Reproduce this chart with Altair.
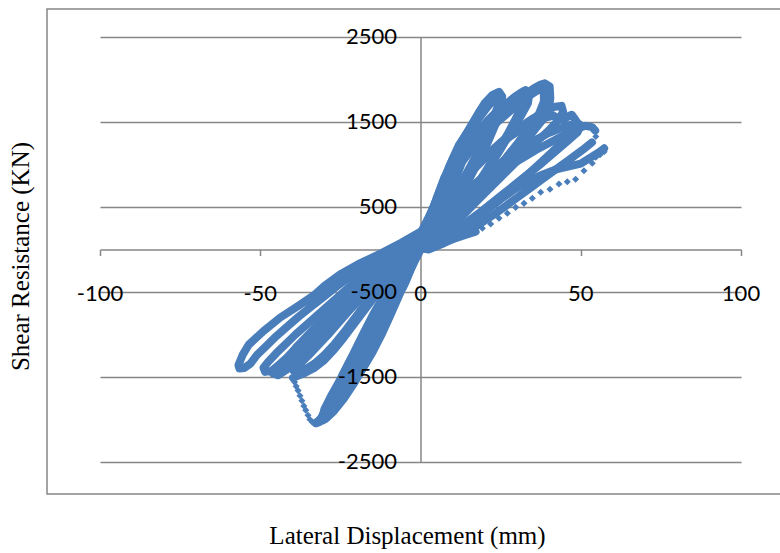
import altair as alt
import pandas as pd

# ---------------- axis ticks ----------------
x_ticks = [-100, -50, 0, 50, 100]
y_ticks = [-2500, -1500, -500, 500, 1500, 2500]

# ---------------- hysteresis data (displacement mm, shear kN) ----------------
loop_01 = [(0, 20), (1.5, 170), (3, 320), (4.5, 460), (5.5, 530), (5, 420), (3.5, 270), (2, 120), (0, 10),
           (-1.5, -100), (-3, -230), (-4.5, -370), (-5.5, -450), (-4.8, -350), (-3, -200), (-1.5, -70), (0, 20)]
loop_02 = [(0, 50), (2.5, 320), (5, 600), (7.5, 850), (10, 1010), (9.5, 880), (7, 600), (4, 290), (1.5, 70), (0, 10),
           (-2.5, -130), (-5, -320), (-7.5, -530), (-10, -730), (-9.2, -610), (-6.5, -390), (-3.5, -170), (-1, -30), (0, 40)]
loop_03 = [(0, 90), (3, 370), (6, 690), (9, 980), (12, 1230), (15, 1400), (16.5, 1430), (15.5, 1280), (12.5, 980),
           (9, 630), (5, 300), (2, 80), (0, 20), (-3, -150), (-6, -380), (-9, -630), (-12, -870), (-15, -1070),
           (-16.5, -1130), (-15, -990), (-11.5, -710), (-8, -440), (-4, -180), (-1, -20), (0, 60)]
loop_04 = [(0, 150), (2.5, 370), (5, 590), (7.5, 840), (10, 1060), (13, 1280), (15.5, 1440), (18, 1600), (20, 1720),
           (22.5, 1820), (24.5, 1855), (25.5, 1800), (25, 1660), (23.5, 1480), (21, 1260), (18, 1030), (14, 740),
           (10, 480), (6, 260), (2.5, 90), (0, 30), (-3, -190), (-6, -430), (-9, -690), (-12, -940), (-15, -1160),
           (-18, -1340), (-20.5, -1430), (-20, -1310), (-17.5, -1110), (-14, -860), (-10, -570), (-6, -310),
           (-2.5, -100), (0, 70)]
loop_04r = [(0, 120), (3, 390), (6, 660), (9, 920), (12, 1150), (15, 1350), (18, 1530), (21, 1680), (23.5, 1790),
            (24.8, 1820), (24.3, 1700), (22.5, 1520), (20, 1310), (17, 1080), (13, 800), (9, 530), (5, 290), (2, 110),
            (0, 40), (-3, -220), (-6, -480), (-9, -740), (-12, -990), (-15, -1210), (-18, -1400), (-21, -1560),
            (-23, -1640), (-22.5, -1530), (-20, -1330), (-16.5, -1080), (-13, -820), (-9, -540), (-5, -280),
            (-2, -90), (0, 60)]
loop_05 = [(0, 170), (3, 390), (6, 630), (9, 870), (12, 1070), (15, 1250), (18, 1390), (21, 1520), (24, 1630),
           (27, 1720), (29.5, 1800), (31.5, 1850), (32.8, 1875), (34, 1840), (33.5, 1720), (31.5, 1580), (28.5, 1400),
           (25, 1180), (21, 940), (17, 710), (13, 500), (9, 310), (5, 150), (2, 40), (0, 10), (-3, -180), (-6, -410),
           (-9, -650), (-12, -890), (-15, -1110), (-18, -1310), (-21, -1490), (-24, -1650), (-27, -1800), (-29, -1900),
           (-30.5, -1960), (-30, -1880), (-28, -1730), (-25, -1530), (-22, -1310), (-18, -1050), (-14, -790),
           (-10, -540), (-6, -310), (-2.5, -110), (0, 90)]
loop_05r = [(0, 160), (3, 400), (6, 640), (9, 860), (12, 1050), (15, 1220), (18, 1370), (21, 1500), (24, 1610),
            (27, 1700), (29.5, 1770), (31, 1800), (31.5, 1700), (30, 1560), (27.5, 1380), (24, 1150), (20, 900),
            (16, 670), (12, 460), (8, 280), (4, 120), (0, 20), (-3, -200), (-6, -440), (-9, -690), (-12, -930),
            (-15, -1150), (-18, -1350), (-21, -1530), (-24, -1690), (-26.5, -1800), (-28, -1850), (-27.5, -1760),
            (-25.5, -1590), (-22.5, -1370), (-19, -1120), (-15, -850), (-11, -590), (-7, -350), (-3, -140), (0, 80)]
loop_06 = [(0, 190), (3, 410), (6, 630), (9, 840), (12, 1020), (15, 1180), (18, 1320), (21, 1450), (24, 1560),
           (27, 1650), (30, 1740), (33, 1830), (35.5, 1900), (37.5, 1940), (38.8, 1955), (40.3, 1920), (40.5, 1780),
           (40, 1640), (38, 1520), (35, 1380), (31.5, 1210), (28, 1040), (24, 860), (20, 680), (16, 510), (12, 350),
           (8, 210), (4, 90), (0, 10), (-3, -210), (-6, -440), (-9, -680), (-12, -910), (-15, -1130), (-18, -1330),
           (-21, -1510), (-24, -1670), (-27, -1830), (-29.5, -1950), (-31.5, -2030), (-32.5, -2045), (-31, -1980),
           (-29, -1840), (-26.5, -1660), (-23.5, -1460), (-20, -1220), (-16.5, -980), (-13, -750), (-9.5, -520),
           (-6, -310), (-2.5, -110), (0, 100)]
loop_06r = [(0, 180), (4, 470), (8, 740), (12, 980), (16, 1180), (20, 1350), (24, 1500), (28, 1630), (31, 1730),
            (34, 1810), (36, 1860), (37.5, 1890), (38.5, 1860), (38.5, 1740), (37, 1600), (34, 1440), (30.5, 1260),
            (26.5, 1070), (22, 860), (18, 680), (14, 500), (10, 330), (6, 180), (2, 50), (0, 0), (-3, -230),
            (-6, -470), (-9, -720), (-12, -960), (-15, -1190), (-18, -1400), (-21, -1590), (-24, -1760),
            (-27, -1900), (-29.5, -1990), (-30.5, -2010), (-29.5, -1930), (-27.5, -1780), (-25, -1580),
            (-22, -1350), (-18.5, -1100), (-15, -860), (-11.5, -620), (-8, -390), (-4, -170), (0, 60)]
loop_07a = [(0, 150), (4, 370), (8, 570), (12, 750), (16, 920), (20, 1070), (24, 1210), (28, 1330), (32, 1430),
            (36, 1510), (39, 1550), (41.5, 1575), (43, 1540), (44.5, 1520), (46, 1565), (47.2, 1585), (48.5, 1520),
            (48, 1420), (45.5, 1310), (42, 1180), (38, 1040), (34, 900), (30, 770), (26, 640), (22, 510), (18, 390),
            (14, 280), (10, 180), (6, 90), (2, 20), (0, 0), (-3, -60), (-6, -170), (-9, -300), (-12, -440),
            (-15, -590), (-18, -740), (-21, -890), (-24, -1040), (-27, -1180), (-30, -1300), (-33, -1390),
            (-36, -1450), (-38.5, -1490), (-39.8, -1510)]
loop_07b = [(-32.8, -2040), (-31.5, -2010), (-30, -1940), (-28.5, -1810), (-26.5, -1650), (-24, -1450), (-21, -1230),
            (-18, -1000), (-15, -780), (-12, -580), (-9, -390), (-6, -230), (-3, -90), (0, 70)]
loop_07r = [(0, 140), (5, 420), (10, 680), (15, 900), (20, 1090), (25, 1260), (30, 1410), (35, 1540), (39, 1630),
            (42, 1680), (44, 1690), (44.5, 1620), (43, 1520), (40, 1400), (36, 1260), (32, 1110), (28, 960),
            (24, 810), (20, 660), (16, 510), (12, 370), (8, 240), (4, 110), (0, 20), (-3, -40), (-6, -150),
            (-9, -270), (-12, -400), (-15, -540), (-18, -680), (-21, -830), (-24, -980), (-27, -1120), (-30, -1240),
            (-33, -1340), (-36, -1410), (-38.5, -1450), (-39.5, -1430), (-38, -1360), (-35, -1250), (-32, -1130),
            (-29, -1010), (-26, -880), (-23, -750), (-20, -620), (-17, -490), (-14, -370), (-11, -260), (-8, -160),
            (-5, -80), (-2, -20), (0, 50)]
loop_08a = [(0, 130), (4, 260), (8, 400), (12, 530), (16, 660), (20, 780), (24, 890), (28, 990), (32, 1080),
            (36, 1170), (40, 1250), (44, 1330), (47, 1390), (49.5, 1430), (51.5, 1455), (53.5, 1440), (54.5, 1400)]
loop_08b = [(53.5, 1260), (50.5, 1170), (46.5, 1060), (42.5, 950), (38.5, 840), (34.5, 730), (30.5, 620),
            (26.5, 510), (22.5, 400), (18.5, 300), (14.5, 210), (10.5, 130), (6.5, 60), (2.5, 0), (0, 20),
            (-3, 30), (-6, -40), (-9, -120), (-12, -200), (-15, -290), (-18, -380), (-21, -480), (-24, -590),
            (-27, -700), (-30, -810), (-33, -920), (-36, -1040), (-39, -1160), (-42, -1290), (-44.5, -1400),
            (-46, -1460), (-44.5, -1480), (-42, -1420), (-39, -1320), (-36, -1210), (-33, -1100), (-30, -990),
            (-27, -880), (-24, -770), (-21, -660), (-18, -550), (-15, -440), (-12, -330), (-9, -220), (-6, -120),
            (-3, -40), (0, 40)]
loop_08r = [(0, 100), (4, 280), (8, 450), (12, 600), (16, 740), (20, 870), (24, 990), (28, 1100), (32, 1200),
            (36, 1290), (40, 1370), (44, 1430), (47, 1470), (49, 1490), (50, 1460), (49, 1380), (46, 1280),
            (42, 1150), (38, 1020), (34, 900), (30, 780), (26, 660), (22, 540), (18, 420), (14, 310), (10, 200),
            (6, 110), (2, 30), (0, 0), (-3, 60), (-6, -10), (-9, -90), (-12, -180), (-15, -280), (-18, -390),
            (-21, -500), (-24, -610), (-27, -730), (-30, -850), (-33, -970), (-36, -1090), (-39, -1210),
            (-41.5, -1310), (-42.5, -1370), (-41, -1380), (-38, -1290), (-35, -1180), (-32, -1070), (-29, -960),
            (-26, -850), (-23, -740), (-20, -630), (-17, -520), (-14, -410), (-11, -300), (-8, -200), (-5, -110),
            (-2, -30), (0, 30)]
loop_09a = [(0, 40), (5, 60), (10, 160), (15, 280), (20, 440), (25, 590), (29, 700), (34, 810), (38, 880),
            (42, 940), (46, 975), (50, 1010), (53, 1080), (55.5, 1140), (57.3, 1190)]
loop_09b = [(17.2, 209), (14, 170), (10, 120), (6, 70), (3, 50), (0, 60), (-3, 100), (-6, 40), (-9, -40),
            (-12, -120), (-15, -210), (-18, -300), (-21, -400), (-24, -500), (-27, -600), (-30, -700), (-33, -800),
            (-36, -900), (-39, -1000), (-42, -1110), (-45, -1220), (-47.5, -1320), (-49, -1390), (-48.5, -1440),
            (-46.5, -1430), (-44, -1350), (-41, -1250), (-38, -1150), (-35, -1050), (-32, -950), (-29, -850),
            (-26, -750), (-23, -650), (-20, -550), (-17, -450), (-14, -350), (-11, -250), (-8, -160), (-5, -80),
            (-2, -10), (0, 40)]
loop_10 = [(0, 210), (-6, 80), (-12, -40), (-18.75, -160), (-25, -290), (-30, -430), (-33.3, -540), (-38, -660),
           (-43.75, -800), (-49, -960), (-53.6, -1120), (-55.5, -1240), (-56.8, -1360), (-56.5, -1400),
           (-55, -1395), (-53, -1340), (-51, -1240), (-48, -1130), (-45, -1020), (-42, -920), (-38, -790),
           (-34, -670), (-30, -550), (-26, -430), (-22, -320), (-18, -220), (-14, -140), (-10, -70), (-6, -10),
           (-3, 30), (0, 80)]

# sparse (fast) parts of the record, drawn as separate diamonds
dots_07 = [(-39.3, -1560), (-38.8, -1610), (-38.2, -1660), (-37.6, -1720), (-37, -1780), (-36.4, -1840),
           (-35.8, -1890), (-35.1, -1950), (-34.5, -2000), (-33.8, -2030)]
dots_08 = [(54.7, 1330)]
dots_09 = [(57.3, 1150), (56, 1115), (54.7, 1085), (53.6, 1014), (51, 927), (48.4, 826), (45.8, 798), (43.2, 771),
           (40.4, 708), (37.5, 673), (34.9, 602), (32.3, 543), (29.7, 496), (27.1, 426), (24.5, 367), (21.9, 300),
           (19.3, 249), (17.2, 209)]

dense_segments = [loop_01, loop_02, loop_03, loop_04, loop_04r, loop_05, loop_05r, loop_06, loop_06r,
                  loop_07a, loop_07b, loop_07r, loop_08a, loop_08b, loop_08r, loop_09a, loop_09b, loop_10]
dotted_segments = [dots_07, dots_08, dots_09]

rows = []
for sid, seg in enumerate(dense_segments):
    for i, (d, f) in enumerate(seg):
        rows.append({"seg": sid, "i": i, "disp": d, "force": f})
dense = pd.DataFrame(rows)
dots = pd.DataFrame([{"disp": d, "force": f} for seg in dotted_segments for d, f in seg])
xlab = pd.DataFrame({"disp": x_ticks, "force": [0] * len(x_ticks), "label": [str(v) for v in x_ticks]})
ylab = pd.DataFrame({"disp": [0] * len(y_ticks), "force": y_ticks, "label": [str(v) for v in y_ticks]})

BLUE = "#4a7ebb"
GRAY = "#868686"
xscale = alt.Scale(domain=[-100, 100], nice=False, zero=False)
yscale = alt.Scale(domain=[-2500, 2500], nice=False, zero=False)

x_axis = alt.Axis(offset=-212.5, values=x_ticks, labels=False, ticks=True, tickSize=6, tickWidth=1.5,
                  tickColor=GRAY, domainColor=GRAY, domainWidth=1.5, grid=False,
                  title="Lateral Displacement (mm)", titleFont="Liberation Serif", titleFontSize=25,
                  titleFontWeight="normal", titleColor="black", titleX=307, titleY=285.5,
                  titleBaseline="middle", titleAlign="center")
y_axis = alt.Axis(offset=-320.5, values=y_ticks, labels=False, ticks=False, grid=True, gridColor=GRAY,
                  gridWidth=1.5, domainColor=GRAY, domainWidth=1.5,
                  title="Shear Resistance (KN)", titleFont="Liberation Serif", titleFontSize=25,
                  titleFontWeight="normal", titleColor="black", titleAngle=270, titleX=-400.5, titleY=219,
                  titleBaseline="middle", titleAlign="center")

X = alt.X("disp:Q", scale=xscale, axis=x_axis)
Y = alt.Y("force:Q", scale=yscale, axis=y_axis)

border = alt.Chart(pd.DataFrame({"a": [0]})).mark_rect(
    fillOpacity=0, stroke=GRAY, strokeWidth=1.5
).encode(x=alt.value(-53), x2=alt.value(720), y=alt.value(-28), y2=alt.value(457))

lines = alt.Chart(dense).mark_line(
    color=BLUE, strokeWidth=8, strokeCap="round", strokeJoin="round"
).encode(x=X, y=Y, detail="seg:N", order="i:Q")

dense_pts = alt.Chart(dense).mark_point(shape="diamond", filled=True, size=50, color=BLUE, opacity=1).encode(
    x=X, y=Y)

dot_pts = alt.Chart(dots).mark_point(shape="diamond", filled=True, size=50, color=BLUE, opacity=1).encode(
    x=X, y=Y)

xtext = alt.Chart(xlab).mark_text(font="Lato", fontSize=22, color="black", baseline="middle", dy=44).encode(
    x=X, y=Y, text="label:N")
ytext = alt.Chart(ylab).mark_text(font="Lato", fontSize=22, color="black", baseline="middle", align="right",
                                  dx=-23.5).encode(x=X, y=Y, text="label:N")

chart = alt.layer(border, lines, dense_pts, dot_pts, xtext, ytext).properties(
    width=641, height=425,
    autosize=alt.AutoSizeParams(type="none"),
    padding={"left": 100, "top": 37, "right": 39, "bottom": 91},
    background="white",
).configure_view(strokeWidth=0)

chart.save("out.html", embed_options={"renderer": "svg", "actions": False})
